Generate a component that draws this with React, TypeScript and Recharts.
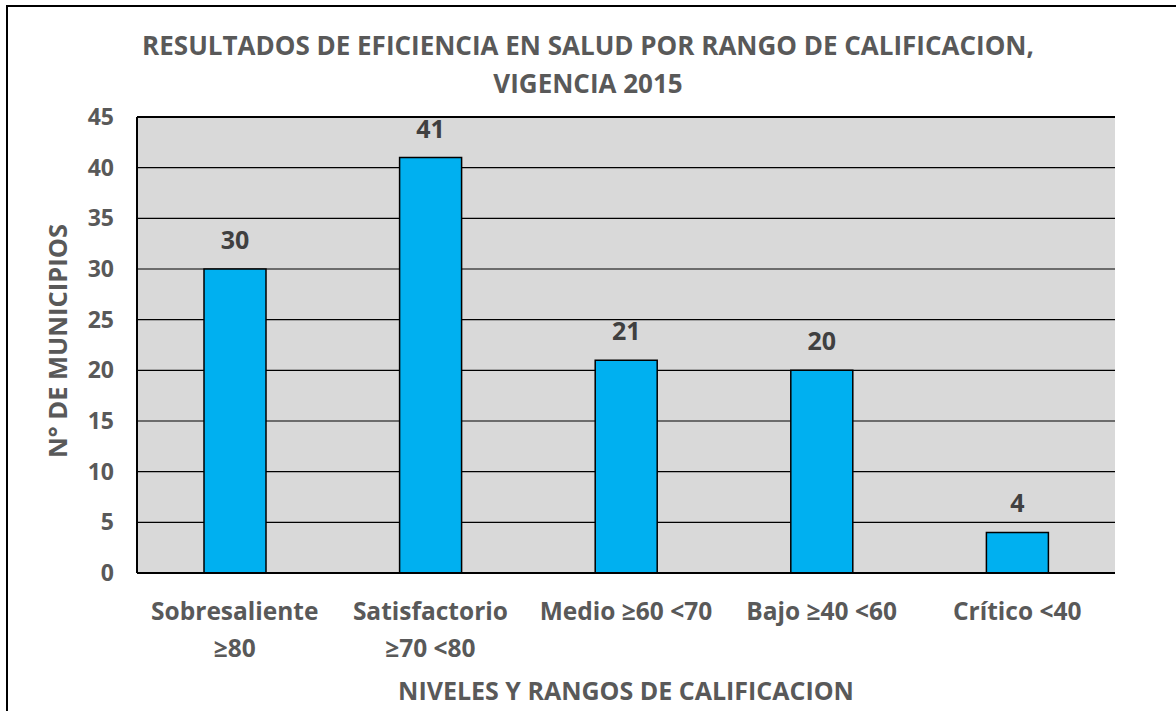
import React from "react";
import {
  BarChart,
  Bar,
  XAxis,
  YAxis,
  CartesianGrid,
  LabelList,
  ReferenceLine,
  Label,
} from "recharts";

const categories = [
  "Sobresaliente ≥80",
  "Satisfactorio ≥70 <80",
  "Medio ≥60 <70",
  "Bajo ≥40 <60",
  "Crítico <40",
];
const tickLines = [
  ["Sobresaliente", "≥80"],
  ["Satisfactorio", "≥70 <80"],
  ["Medio ≥60 <70"],
  ["Bajo ≥40 <60"],
  ["Crítico <40"],
];
const municipios = [30, 41, 21, 20, 4];
const yTicks = [0, 5, 10, 15, 20, 25, 30, 35, 40, 45];

const titleLines = [
  "RESULTADOS DE EFICIENCIA EN SALUD POR RANGO DE CALIFICACION,",
  "VIGENCIA 2015",
];

const FONT = "'Open Sans', Lato, sans-serif";
const GRAY = "#595959";

const data = categories.map((c, i) => ({ name: c, value: municipios[i] }));

function CategoryTick(props: any) {
  const { x, y, index } = props;
  const lines = tickLines[index] ?? [];
  return (
    <text
      x={x}
      y={y + 39}
      textAnchor="middle"
      fill={GRAY}
      fontFamily={FONT}
      fontWeight={700}
      fontSize={24.5}
    >
      {lines.map((l, i) => (
        <tspan key={i} x={x} dy={i === 0 ? 0 : 37}>
          {l}
        </tspan>
      ))}
    </text>
  );
}

export default function App() {
  return (
    <div
      style={{
        position: "absolute",
        left: 0,
        top: 0,
        width: 1176,
        height: 711,
        background: "white",
        overflow: "hidden",
      }}
    >
      <div
        style={{
          position: "absolute",
          left: 6,
          top: 5,
          width: 1300,
          height: 800,
          borderLeft: "2px solid #000",
          borderTop: "2px solid #000",
        }}
      />
      {titleLines.map((t, i) => (
        <div
          key={i}
          style={{
            position: "absolute",
            left: 0,
            width: 1176,
            top: 30 + i * 38,
            textAlign: "center",
            fontFamily: FONT,
            fontWeight: 700,
            fontSize: 26,
            lineHeight: "30px",
            color: GRAY,
          }}
        >
          {t}
        </div>
      ))}
      <div style={{ position: "absolute", left: 0, top: 0 }}>
        <BarChart
          width={1176}
          height={711}
          data={data}
          margin={{ top: 117, right: 61, left: 77, bottom: 58 }}
        >
          <CartesianGrid
            fill="#d9d9d9"
            stroke="#000"
            strokeWidth={1.2}
            vertical={false}
            fillOpacity={1}
          />
          <XAxis
            dataKey="name"
            height={80}
            axisLine={{ stroke: "#000", strokeWidth: 2 }}
            tickLine={false}
            interval={0}
            tick={<CategoryTick />}
          >
            <Label
              content={() => (
                <text
                  x={626}
                  y={700}
                  textAnchor="middle"
                  fill={GRAY}
                  fontFamily={FONT}
                  fontWeight={700}
                  fontSize={25}
                >
                  NIVELES Y RANGOS DE CALIFICACION
                </text>
              )}
            />
          </XAxis>
          <YAxis
            width={60}
            domain={[0, 45]}
            ticks={yTicks}
            interval={0}
            axisLine={{ stroke: "#000", strokeWidth: 2 }}
            tickLine={false}
            tickMargin={17}
            tick={{ fill: GRAY, fontFamily: FONT, fontWeight: 700, fontSize: 23 }}
          >
            <Label
              content={() => (
                <text
                  x={67}
                  y={341}
                  transform="rotate(-90 67 341)"
                  textAnchor="middle"
                  fill={GRAY}
                  fontFamily={FONT}
                  fontWeight={700}
                  fontSize={25.5}
                >
                  N° DE MUNICIPIOS
                </text>
              )}
            />
          </YAxis>
          <YAxis
            yAxisId="r"
            orientation="right"
            width={0}
            tick={false}
            tickLine={false}
            axisLine={{ stroke: "#000", strokeWidth: 2 }}
          />
          <ReferenceLine y={45} stroke="#000" strokeWidth={2} />
          <Bar
            dataKey="value"
            barSize={62}
            fill="#00B0F0"
            stroke="#000"
            strokeWidth={1.5}
            isAnimationActive={false}
          >
            <LabelList
              dataKey="value"
              position="top"
              offset={20}
              fill="#404040"
              fontFamily={FONT}
              fontWeight={700}
              fontSize={25}
            />
          </Bar>
        </BarChart>
      </div>
    </div>
  );
}
